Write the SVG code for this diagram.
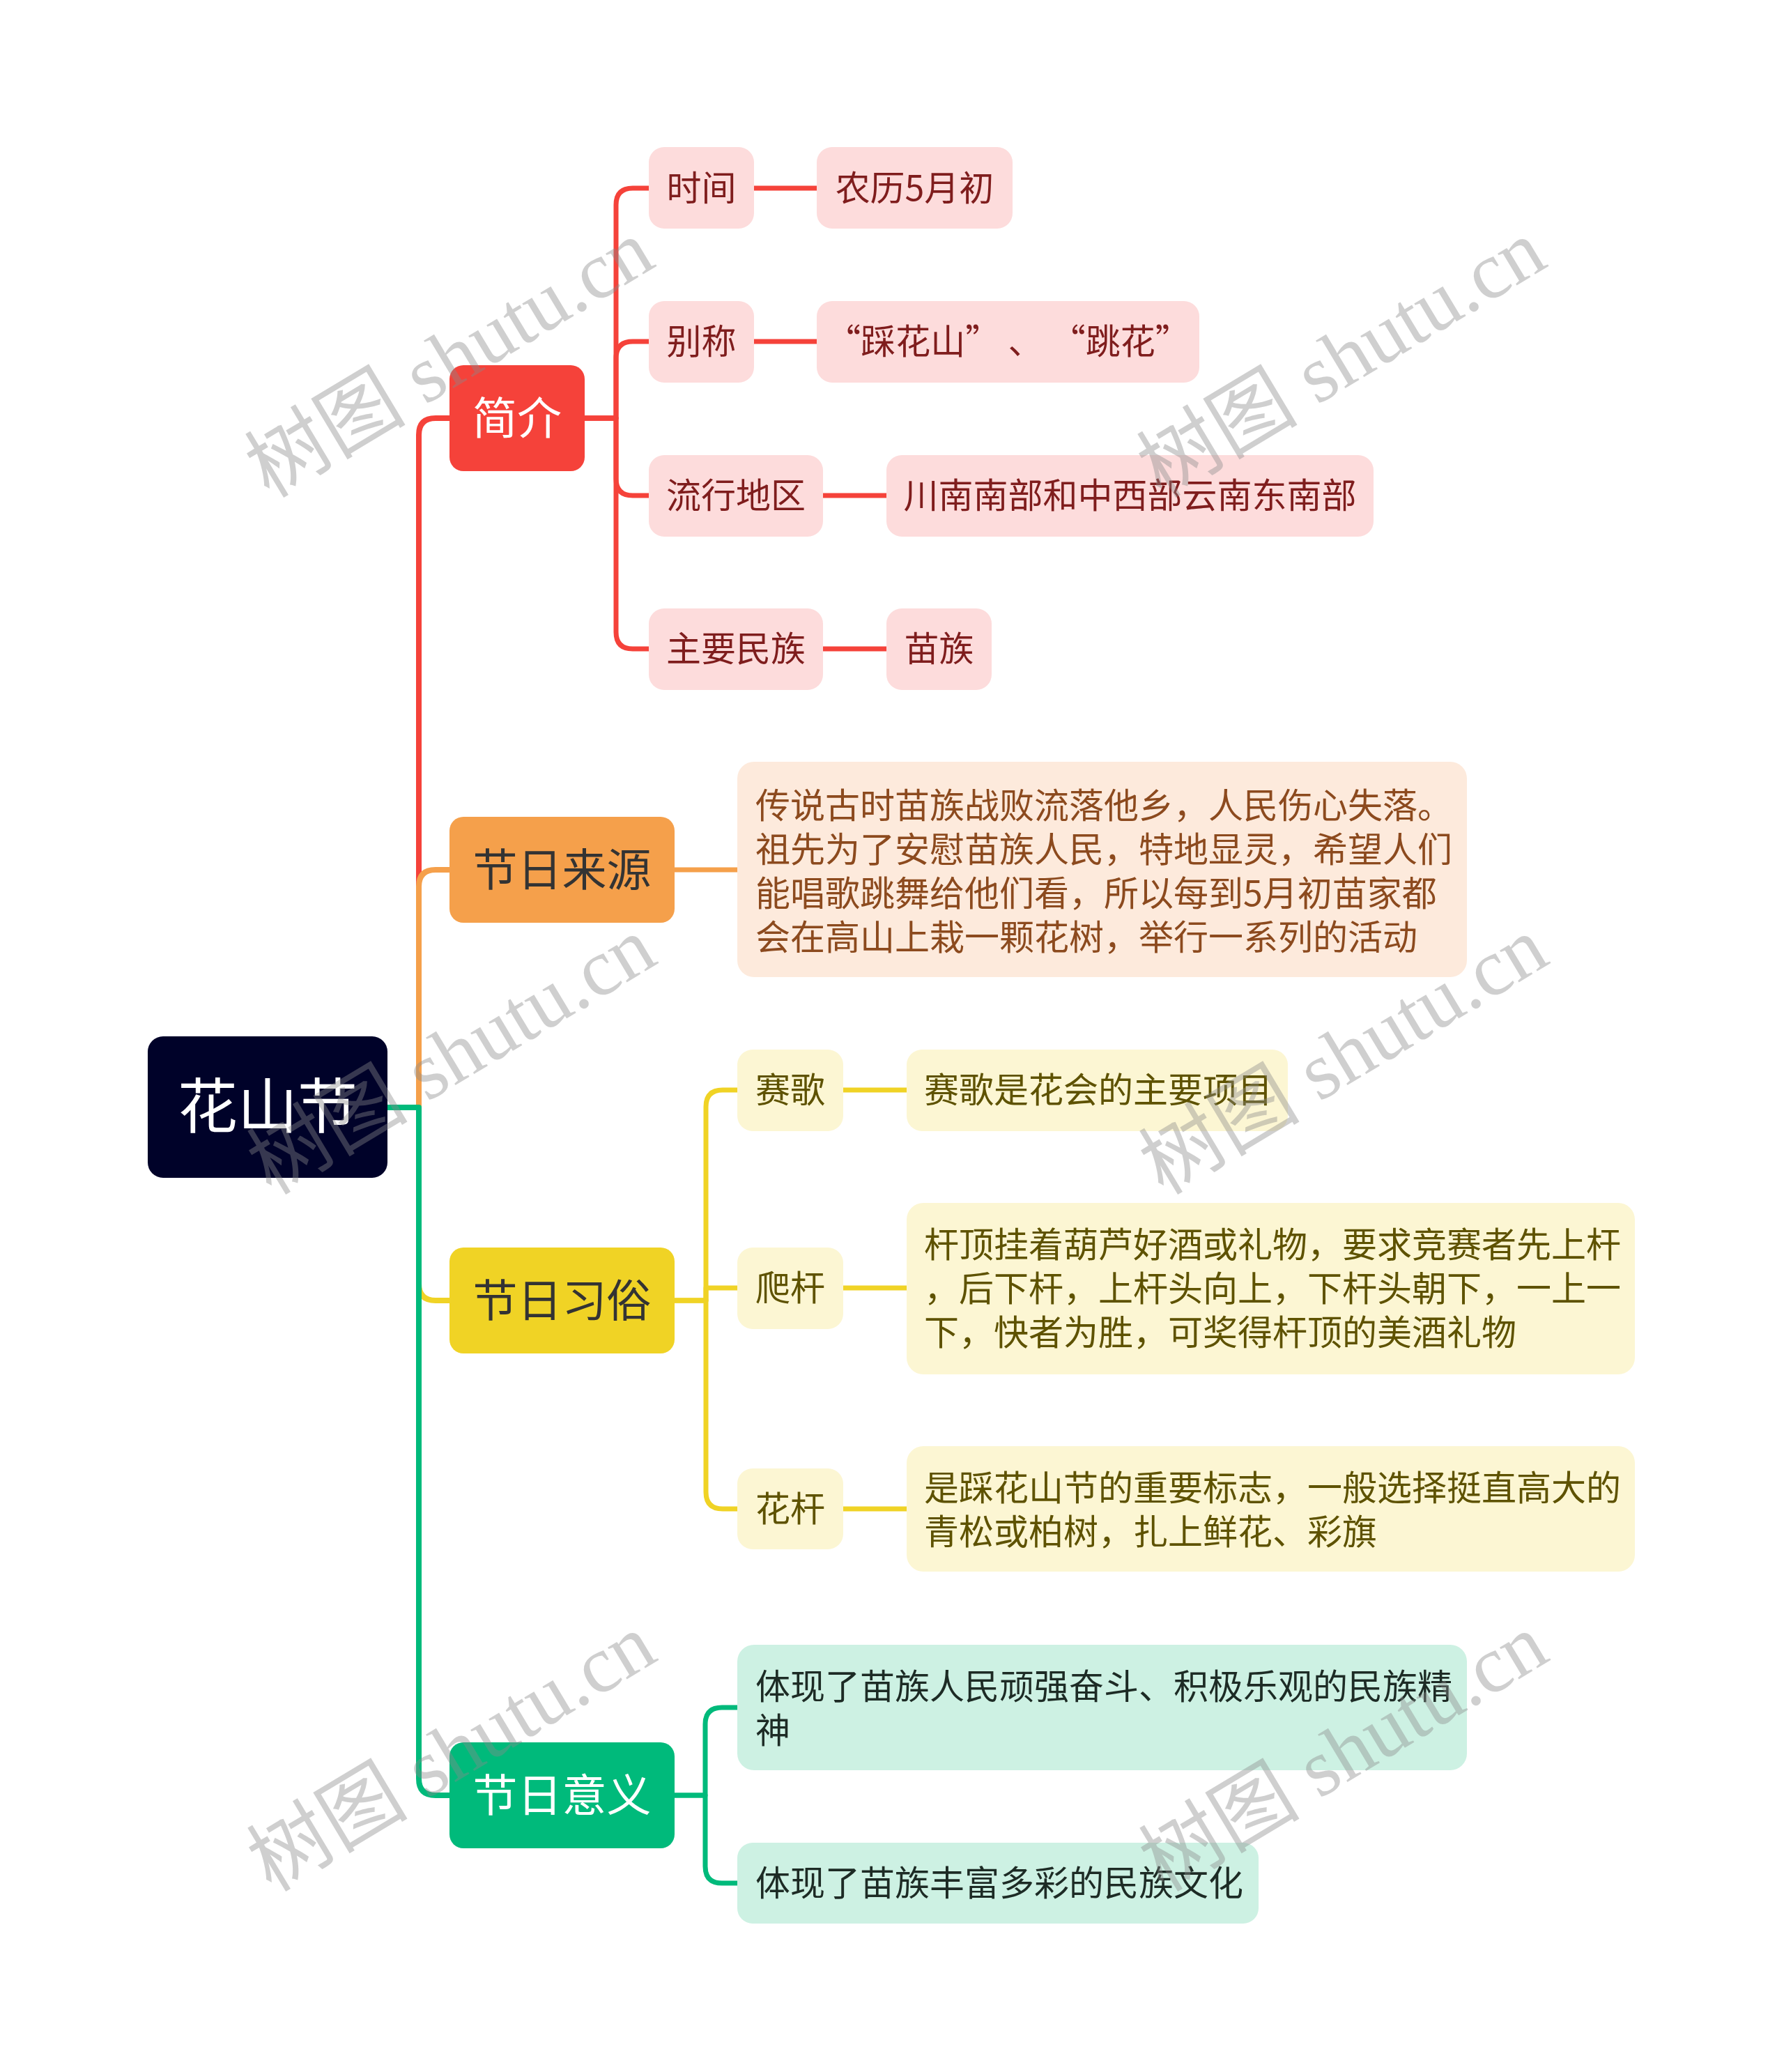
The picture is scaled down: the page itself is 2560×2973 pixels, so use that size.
<svg xmlns="http://www.w3.org/2000/svg" width="2560" height="2973" viewBox="0 0 2560 2973">
<style>
text{font-family:"Noto Sans CJK SC","Noto Sans",sans-serif;}
.c{fill:none;stroke-linecap:butt;stroke-linejoin:round;}
.red{stroke:#F5423A;}
.org{stroke:#F5A04B;}
.yel{stroke:#F0D325;}
.grn{stroke:#00BA7B;}
.t1{stroke-width:8;}
.t2{stroke-width:7;}
.main{font-size:64px;text-anchor:middle;}
.sub{font-size:50px;}
.mid{text-anchor:middle;}
.wm{font-family:"Liberation Serif","Noto Sans CJK SC",serif;font-size:116px;fill:#8a8a8a;opacity:0.4;text-anchor:middle;dominant-baseline:central;}
</style>
<rect width="2560" height="2973" fill="#ffffff"/>
<g id="connectors">
<path class="c red t1" d="M556 1589 H601 V624 Q601 600 625 600 H645"/>
<path class="c org t1" d="M556 1589 H601 V1272 Q601 1248 625 1248 H645"/>
<path class="c yel t1" d="M556 1589 H601 V1842 Q601 1866 625 1866 H645"/>
<path class="c grn t1" d="M556 1589 H601 V2552 Q601 2576 625 2576 H645"/>
<path class="c red t2" d="M839 600 H884 V294 Q884 270 908 270 H931"/>
<path class="c red t2" d="M839 600 H884 V514 Q884 490 908 490 H931"/>
<path class="c red t2" d="M839 600 H884 V687 Q884 711 908 711 H931"/>
<path class="c red t2" d="M839 600 H884 V907 Q884 931 908 931 H931"/>
<path class="c red t2" d="M1082 270 H1172"/>
<path class="c red t2" d="M1082 490 H1172"/>
<path class="c red t2" d="M1181 711 H1272"/>
<path class="c red t2" d="M1181 931 H1272"/>
<path class="c org t2" d="M968 1248 H1058"/>
<path class="c yel t2" d="M968 1866 H1013 V1588 Q1013 1564 1037 1564 H1058"/>
<path class="c yel t2" d="M968 1866 H1013 V1848 H1058"/>
<path class="c yel t2" d="M968 1866 H1013 V2141 Q1013 2165 1037 2165 H1058"/>
<path class="c yel t2" d="M1210 1564 H1301"/>
<path class="c yel t2" d="M1210 1848 H1301"/>
<path class="c yel t2" d="M1210 2165 H1301"/>
<path class="c grn t2" d="M968 2576 H1012 V2474 Q1012 2450 1036 2450 H1058"/>
<path class="c grn t2" d="M968 2576 H1012 V2678 Q1012 2702 1036 2702 H1058"/>
</g>
<g id="root">
<rect x="212" y="1487" width="344" height="203" rx="22" fill="#000229"/>
<text x="384" y="1619" font-size="86" fill="#ffffff" text-anchor="middle">花山节</text>
</g>
<g id="jianjie">
<rect x="645" y="524" width="194" height="152" rx="20" fill="#F5423A"/>
<text class="main" x="742" y="623" fill="#ffffff">简介</text>
</g>
<g id="laiyuan">
<rect x="645" y="1172" width="323" height="152" rx="20" fill="#F5A04B"/>
<text class="main" x="806.5" y="1271" fill="#333333">节日来源</text>
</g>
<g id="xisu">
<rect x="645" y="1790" width="323" height="152" rx="20" fill="#F0D325"/>
<text class="main" x="806.5" y="1889" fill="#333333">节日习俗</text>
</g>
<g id="yiyi">
<rect x="645" y="2500" width="323" height="152" rx="20" fill="#00BA7B"/>
<text class="main" x="806.5" y="2599" fill="#ffffff">节日意义</text>
</g>
<g id="shijian">
<rect x="931" y="211" width="151" height="117" rx="22" fill="#FDDCDC"/>
<text class="sub mid" x="1006.5" y="288" fill="#7F1D1D">时间</text>
</g>
<g id="nongli">
<rect x="1172" y="211" width="281" height="117" rx="22" fill="#FDDCDC"/>
<text class="sub mid" x="1312.5" y="288" fill="#7F1D1D">农历5月初</text>
</g>
<g id="biecheng">
<rect x="931" y="432" width="151" height="117" rx="22" fill="#FDDCDC"/>
<text class="sub mid" x="1006.5" y="508" fill="#7F1D1D">别称</text>
</g>
<g id="caihuashan">
<rect x="1172" y="432" width="549" height="117" rx="22" fill="#FDDCDC"/>
<text class="sub mid" x="1446.5" y="508" fill="#7F1D1D">“踩花山” 、 “跳花”</text>
</g>
<g id="liuxing">
<rect x="931" y="653" width="250" height="117" rx="22" fill="#FDDCDC"/>
<text class="sub mid" x="1056" y="729" fill="#7F1D1D">流行地区</text>
</g>
<g id="chuannan">
<rect x="1272" y="653" width="699" height="117" rx="22" fill="#FDDCDC"/>
<text class="sub mid" x="1621.5" y="729" fill="#7F1D1D">川南南部和中西部云南东南部</text>
</g>
<g id="minzu">
<rect x="931" y="873" width="250" height="117" rx="22" fill="#FDDCDC"/>
<text class="sub mid" x="1056" y="949" fill="#7F1D1D">主要民族</text>
</g>
<g id="miaozu">
<rect x="1272" y="873" width="151" height="117" rx="22" fill="#FDDCDC"/>
<text class="sub mid" x="1347.5" y="949" fill="#7F1D1D">苗族</text>
</g>
<g id="chuanshuo">
<rect x="1058" y="1093" width="1047" height="309" rx="24" fill="#FDEADC"/>
<text class="sub" fill="#8C4A1E">
<tspan x="1084" y="1174">传说古时苗族战败流落他乡，人民伤心失落。</tspan>
<tspan x="1084" y="1237">祖先为了安慰苗族人民，特地显灵，希望人们</tspan>
<tspan x="1084" y="1300">能唱歌跳舞给他们看，所以每到5月初苗家都</tspan>
<tspan x="1084" y="1363">会在高山上栽一颗花树，举行一系列的活动</tspan>
</text>
</g>
<g id="saige">
<rect x="1058" y="1506" width="152" height="117" rx="22" fill="#FCF6D3"/>
<text class="sub mid" x="1134" y="1582" fill="#5E5200">赛歌</text>
</g>
<g id="saige-d">
<rect x="1301" y="1506" width="547" height="117" rx="22" fill="#FCF6D3"/>
<text class="sub" x="1326" y="1582" fill="#5E5200">赛歌是花会的主要项目</text>
</g>
<g id="pagan">
<rect x="1058" y="1790" width="152" height="117" rx="22" fill="#FCF6D3"/>
<text class="sub mid" x="1134" y="1866" fill="#5E5200">爬杆</text>
</g>
<g id="pagan-d">
<rect x="1301" y="1726" width="1045" height="246" rx="24" fill="#FCF6D3"/>
<text class="sub" fill="#5E5200">
<tspan x="1326" y="1804">杆顶挂着葫芦好酒或礼物，要求竞赛者先上杆</tspan>
<tspan x="1326" y="1867">，后下杆，上杆头向上，下杆头朝下，一上一</tspan>
<tspan x="1326" y="1930">下，快者为胜，可奖得杆顶的美酒礼物</tspan>
</text>
</g>
<g id="huagan">
<rect x="1058" y="2107" width="152" height="116" rx="22" fill="#FCF6D3"/>
<text class="sub mid" x="1134" y="2183" fill="#5E5200">花杆</text>
</g>
<g id="huagan-d">
<rect x="1301" y="2075" width="1045" height="180" rx="24" fill="#FCF6D3"/>
<text class="sub" fill="#5E5200">
<tspan x="1326" y="2153">是踩花山节的重要标志，一般选择挺直高大的</tspan>
<tspan x="1326" y="2216">青松或柏树，扎上鲜花、彩旗</tspan>
</text>
</g>
<g id="jingshen">
<rect x="1058" y="2360" width="1047" height="180" rx="24" fill="#CDF1E3"/>
<text class="sub" fill="#1D2B25">
<tspan x="1084" y="2438">体现了苗族人民顽强奋斗、积极乐观的民族精</tspan>
<tspan x="1084" y="2501">神</tspan>
</text>
</g>
<g id="wenhua">
<rect x="1058" y="2644" width="748" height="116" rx="22" fill="#CDF1E3"/>
<text class="sub" x="1084" y="2720" fill="#1D2B25">体现了苗族丰富多彩的民族文化</text>
</g>
<g id="watermarks">
<text class="wm" transform="translate(645 515) rotate(-31)">树图 shutu.cn</text>
<text class="wm" transform="translate(1925 515) rotate(-31)">树图 shutu.cn</text>
<text class="wm" transform="translate(648 1515) rotate(-31)">树图 shutu.cn</text>
<text class="wm" transform="translate(1928 1515) rotate(-31)">树图 shutu.cn</text>
<text class="wm" transform="translate(648 2515) rotate(-31)">树图 shutu.cn</text>
<text class="wm" transform="translate(1928 2515) rotate(-31)">树图 shutu.cn</text>
</g>
</svg>
